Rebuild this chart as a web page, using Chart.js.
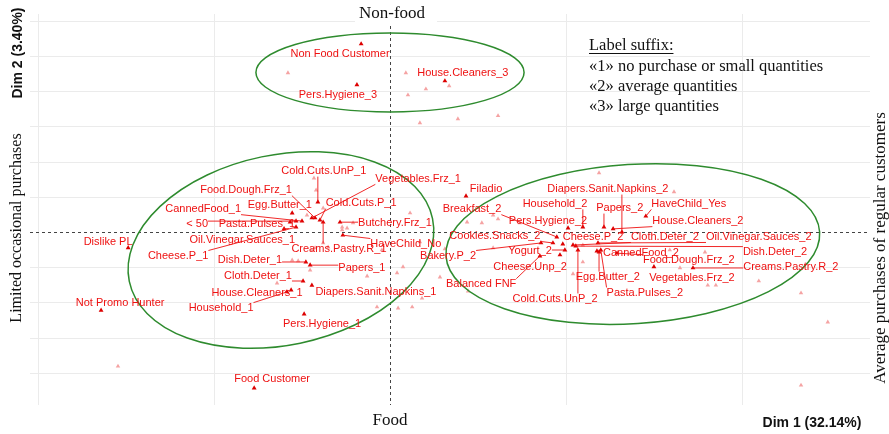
<!DOCTYPE html>
<html>
<head>
<meta charset="utf-8">
<script src="https://cdn.jsdelivr.net/npm/chart.js@4.4.1/dist/chart.umd.min.js"></script>
<style>
  html, body { margin: 0; padding: 0; background: #fff; }
  canvas { display: block; }
</style>
</head>
<body>
<canvas id="mca" width="889" height="434" style="width:889px;height:434px"></canvas>
<script>
// category labels and their coordinates on Dim 1 / Dim 2
const names = [
  'Non Food Customer', 'Pers.Hygiene_3', 'House.Cleaners_3',
  'Cold.Cuts.UnP_1', 'Food.Dough.Frz_1', 'Egg.Butter_1', 'CannedFood_1', 'Cold.Cuts.P_1',
  'Vegetables.Frz_1', '< 50', 'Pasta.Pulses_1', 'Oil.Vinegar.Sauces_1', 'Cheese.P_1',
  'Dislike PL', 'Creams.Pastry.R_1', 'Butchery.Frz_1', 'HaveChild_No', 'Dish.Deter_1',
  'Papers_1', 'Cloth.Deter_1', 'House.Cleaners_1', 'Diapers.Sanit.Napkins_1', 'Household_1',
  'Pers.Hygiene_1', 'Not Promo Hunter', 'Food Customer',
  'Filadio', 'Breakfast_2', 'Diapers.Sanit.Napkins_2', 'Household_2', 'Papers_2',
  'HaveChild_Yes', 'Pers.Hygiene_2', 'House.Cleaners_2', 'Cookies.Snacks_2', 'Cheese.P_2',
  'Cloth.Deter_2', 'Oil.Vinegar.Sauces_2', 'Dish.Deter_2', 'Yogurt_2', 'Bakery.P_2',
  'CannedFood_2', 'Food.Dough.Frz_2', 'Vegetables.Frz_2', 'Creams.Pastry.R_2', 'Cheese.Unp_2',
  'Balanced FNF', 'Egg.Butter_2', 'Pasta.Pulses_2', 'Cold.Cuts.UnP_2'
];
const dim1 = [
  -0.082, -0.094, 0.156,
  -0.205, -0.213, -0.278, -0.250, -0.199,
  -0.222, -0.267, -0.284, -0.301, -0.267,
  -0.744, -0.190, -0.142, -0.134, -0.239,
  -0.227, -0.247, -0.281, -0.222, -0.293,
  -0.244, -0.821, -0.386,
  0.216, 0.474, 0.659, 0.548, 0.608,
  0.727, 0.506, 0.634, 0.463, 0.491,
  0.520, 0.591, 0.528, 0.497, 0.429,
  0.588, 0.645, 0.750, 0.861, 0.483,
  0.426, 0.594, 0.599, 0.534
];
const dim2 = [
  0.534, 0.418, 0.429,
  0.085, 0.040, 0.054, 0.031, 0.034,
  0.040, 0.031, 0.028, 0.009, 0.014,
  -0.045, 0.028, 0.028, -0.009, -0.085,
  -0.094, -0.139, -0.165, -0.151, -0.170,
  -0.233, -0.222, -0.443,
  0.102, -0.014, 0.000, 0.014, 0.014,
  0.045, 0.011, 0.009, -0.031, -0.034,
  -0.037, -0.031, -0.040, -0.051, -0.031,
  -0.054, -0.060, -0.099, -0.102, -0.065,
  -0.068, -0.057, -0.051, -0.051
];

// other (unlabelled) categories
const otherDim1 = [
  -0.290, 0.045, 0.102, 0.168, 0.051, 0.085, 0.193, 0.307,
  -0.216, -0.210, -0.190, -0.236, -0.136, -0.105, -0.136, -0.122,
  -0.190, -0.213, -0.278, -0.261, 0.057, 0.219, 0.261, 0.293,
  -0.176, -0.023, 0.037, 0.085, 0.020, 0.142, -0.222, -0.321,
  -0.227, -0.065, -0.037, 0.023, 0.063, 0.091, 0.594, 0.807,
  0.307, 0.369, 0.156, 0.293, 0.548, 0.795, 0.895, 0.824,
  0.222, 0.520, 0.548, 0.903, 0.926, 1.048, 1.168, 1.244,
  1.168, -0.773
];
const otherDim2 = [
  0.452, 0.452, 0.406, 0.415, 0.389, 0.310, 0.321, 0.330,
  0.153, 0.119, 0.068, 0.048, 0.014, 0.026, 0.006, 0.011,
  -0.031, -0.045, -0.080, -0.082, 0.054, 0.028, 0.026, 0.048,
  -0.043, -0.051, -0.099, -0.028, -0.116, -0.128, -0.051, -0.145,
  -0.108, -0.125, -0.213, -0.216, -0.213, -0.188, 0.168, 0.114,
  0.037, 0.026, -0.048, -0.045, -0.037, -0.051, -0.057, -0.102,
  -0.168, -0.119, -0.085, -0.151, -0.151, -0.139, -0.173, -0.256,
  -0.435, -0.381
];

// grid ticks
const xTicks = [-1, -0.5, 0, 0.5, 1];
const yTicks = [-0.4, -0.3, -0.2, -0.1, 0, 0.1, 0.2, 0.3, 0.4, 0.5, 0.6];

// repelled label positions (data units)
const labelX = [
  -0.142, -0.148, 0.207,
  -0.188, -0.409, -0.313, -0.531, -0.082,
  0.080, -0.548, -0.378, -0.420, -0.602,
  -0.801, -0.145, 0.014, 0.045, -0.398,
  -0.080, -0.375, -0.378, -0.040, -0.480,
  -0.193, -0.767, -0.335,
  0.273, 0.233, 0.619, 0.469, 0.653,
  0.849, 0.449, 0.875, 0.298, 0.577,
  0.781, 1.048, 1.094, 0.398, 0.165,
  0.713, 0.849, 0.858, 1.139, 0.398,
  0.259, 0.619, 0.724, 0.469
];
const labelY = [
  0.506, 0.389, 0.452,
  0.173, 0.119, 0.077, 0.065, 0.082,
  0.151, 0.023, 0.023, -0.023, -0.068,
  -0.028, -0.048, 0.026, -0.034, -0.080,
  -0.102, -0.125, -0.173, -0.170, -0.216,
  -0.261, -0.202, -0.418,
  0.122, 0.065, 0.122, 0.080, 0.068,
  0.080, 0.031, 0.031, -0.011, -0.014,
  -0.014, -0.014, -0.057, -0.054, -0.068,
  -0.060, -0.080, -0.131, -0.099, -0.099,
  -0.148, -0.128, -0.173, -0.190
];

// cluster ellipses: centre, semi-axes, tilt (deg)
const ellCx = [0.000, -0.310, 0.690];
const ellCy = [0.453, -0.051, -0.034];
const ellRx = [0.381, 0.440, 0.532];
const ellRy = [0.112, 0.270, 0.226];
const ellTilt = [0, 11.7, 3.7];

const RED = '#ee1111';
const LABEL_FONT = '11px "Liberation Sans", Arial, sans-serif';
const SERIF = '"Liberation Serif", "Times New Roman", serif';

const decor = {
  id: 'decor',
  beforeDatasetsDraw(chart) {
    const { ctx, chartArea: a, scales: { x, y } } = chart;
    ctx.save();
    ctx.lineWidth = 1;
    ctx.strokeStyle = '#ebebeb';
    xTicks.forEach(v => {
      if (v === 0) return;
      const px = Math.round(x.getPixelForValue(v)) + 0.5;
      ctx.beginPath(); ctx.moveTo(px, a.top); ctx.lineTo(px, a.bottom); ctx.stroke();
    });
    yTicks.forEach(v => {
      if (v === 0) return;
      const py = Math.round(y.getPixelForValue(v)) + 0.5;
      ctx.beginPath(); ctx.moveTo(a.left, py); ctx.lineTo(a.right, py); ctx.stroke();
    });
    // zero lines
    ctx.strokeStyle = '#444';
    ctx.setLineDash([3, 3]);
    const x0 = Math.round(x.getPixelForValue(0)) + 0.5;
    const y0 = Math.round(y.getPixelForValue(0)) + 0.5;
    ctx.beginPath(); ctx.moveTo(x0, a.top); ctx.lineTo(x0, a.bottom); ctx.stroke();
    ctx.beginPath(); ctx.moveTo(a.left, y0); ctx.lineTo(a.right, y0); ctx.stroke();
    ctx.restore();
  },
  afterDatasetsDraw(chart) {
    const { ctx, scales: { x, y } } = chart;
    const sx = Math.abs(x.getPixelForValue(1) - x.getPixelForValue(0));
    const sy = Math.abs(y.getPixelForValue(1) - y.getPixelForValue(0));
    ctx.save();

    // ellipses
    ctx.strokeStyle = '#2e8b2e';
    ctx.lineWidth = 1.5;
    ellCx.forEach((cx, i) => {
      ctx.beginPath();
      ctx.ellipse(x.getPixelForValue(cx), y.getPixelForValue(ellCy[i]),
        ellRx[i] * sx, ellRy[i] * sy, -ellTilt[i] * Math.PI / 180, 0, Math.PI * 2);
      ctx.stroke();
    });

    // labels with segments
    ctx.font = LABEL_FONT;
    ctx.textAlign = 'center';
    ctx.textBaseline = 'middle';
    ctx.strokeStyle = RED;
    ctx.fillStyle = RED;
    ctx.lineWidth = 0.9;
    names.forEach((n, i) => {
      const px = x.getPixelForValue(dim1[i]);
      const py = y.getPixelForValue(dim2[i]);
      const lx = x.getPixelForValue(labelX[i]);
      const ly = y.getPixelForValue(labelY[i]);
      const w = ctx.measureText(n).width;
      const h = 11;
      const ex = Math.min(Math.max(px, lx - w / 2), lx + w / 2);
      const ey = Math.min(Math.max(py, ly - h / 2), ly + h / 2);
      if (Math.hypot(px - ex, py - ey) > 7) {
        ctx.beginPath(); ctx.moveTo(ex, ey); ctx.lineTo(px, py); ctx.stroke();
      }
      ctx.fillText(n, lx, ly);
    });
    ctx.restore();
  },
  afterDraw(chart) {
    const { ctx } = chart;
    ctx.save();
    ctx.fillStyle = '#fff';
    ctx.fillRect(355, 3, 82, 20);

    ctx.fillStyle = '#111';
    ctx.textAlign = 'center';
    ctx.textBaseline = 'middle';
    ctx.font = '17px ' + SERIF;
    ctx.fillText('Non-food', 392, 14);
    ctx.fillText('Food', 390, 421);

    ctx.font = 'bold 14px "Liberation Sans", Arial, sans-serif';
    ctx.fillText('Dim 1 (32.14%)', 812, 423);
    ctx.save();
    ctx.translate(18, 53);
    ctx.rotate(-Math.PI / 2);
    ctx.fillText('Dim 2 (3.40%)', 0, 0);
    ctx.restore();

    ctx.font = '16px ' + SERIF;
    ctx.save();
    ctx.translate(17, 228);
    ctx.rotate(-Math.PI / 2);
    ctx.fillText('Limited occasional purchases', 0, 0);
    ctx.restore();

    ctx.font = '17px ' + SERIF;
    ctx.save();
    ctx.translate(881, 248);
    ctx.rotate(-Math.PI / 2);
    ctx.fillText('Average purchases of regular customers', 0, 0);
    ctx.restore();

    // suffix note
    ctx.textAlign = 'left';
    ctx.font = '16.5px ' + SERIF;
    const lines = ['Label suffix:', '\u00ab1\u00bb no purchase or small quantities',
      '\u00ab2\u00bb average quantities', '\u00ab3\u00bb large quantities'];
    const ys = [46, 67, 87, 107];
    lines.forEach((t, i) => ctx.fillText(t, 589, ys[i]));
    const uw = ctx.measureText(lines[0]).width;
    ctx.strokeStyle = '#111';
    ctx.lineWidth = 1;
    ctx.beginPath(); ctx.moveTo(589, 53.5); ctx.lineTo(589 + uw, 53.5); ctx.stroke();
    ctx.restore();
  }
};

new Chart(document.getElementById('mca'), {
  type: 'scatter',
  data: {
    datasets: [
      {
        label: 'other',
        data: otherDim1.map((v, i) => ({ x: v, y: otherDim2[i] })),
        pointStyle: 'triangle',
        pointRadius: 2.6,
        backgroundColor: '#f5a3a3',
        borderWidth: 0
      },
      {
        label: 'categories',
        data: dim1.map((v, i) => ({ x: v, y: dim2[i] })),
        pointStyle: 'triangle',
        pointRadius: 2.8,
        backgroundColor: '#dd0000',
        borderWidth: 0
      }
    ]
  },
  options: {
    responsive: false,
    animation: false,
    devicePixelRatio: 1,
    layout: { padding: { left: 30, right: 19, top: 14, bottom: 29 } },
    plugins: { legend: { display: false }, tooltip: { enabled: false } },
    scales: {
      x: { type: 'linear', min: -1.023, max: 1.364, display: false },
      y: { type: 'linear', min: -0.491, max: 0.619, display: false }
    }
  },
  plugins: [decor]
});
</script>
</body>
</html>
